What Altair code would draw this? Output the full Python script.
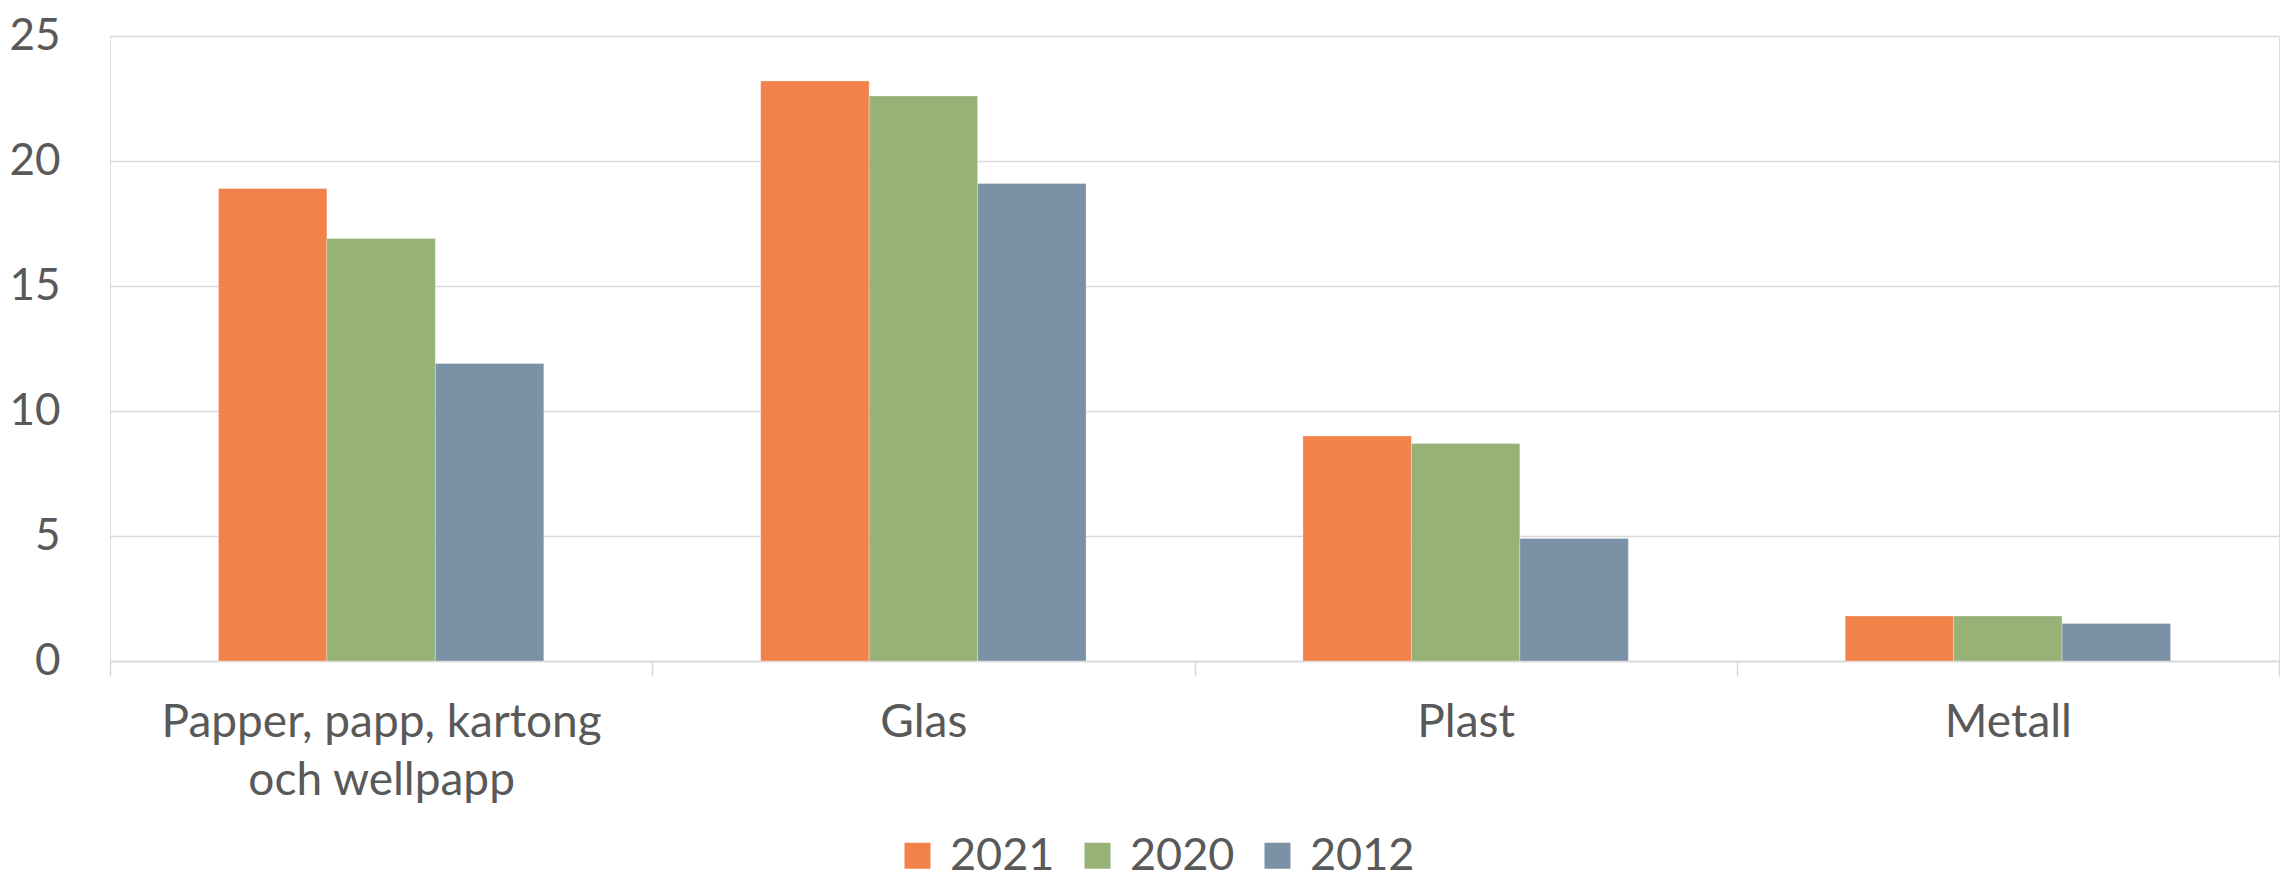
import altair as alt
import pandas as pd

categories = ["Papper, papp, kartong och wellpapp", "Glas", "Plast", "Metall"]
years = ["2021", "2020", "2012"]
values_2021 = [18.9, 23.2, 9.0, 1.8]
values_2020 = [16.9, 22.6, 8.7, 1.8]
values_2012 = [11.9, 19.1, 4.9, 1.5]
colors = ["#F0824A", "#96B277", "#7B91A5"]

rows = []
for yr, vals in zip(years, [values_2021, values_2020, values_2012]):
    for c, v in zip(categories, vals):
        rows.append({"Kategori": c, "År": yr, "Värde": v})
df = pd.DataFrame(rows)

FONT = "Lato"
TXT = "#595959"
GRID = "#D9D9D9"

label_expr = ("datum.label == 'Papper, papp, kartong och wellpapp' ? "
              "['Papper, papp, kartong', 'och wellpapp'] : datum.label")

chart = alt.Chart(df).mark_bar(stroke="white", strokeWidth=0.6, strokeOpacity=0.5).encode(
    x=alt.X("Kategori:N", sort=categories, title=None,
            scale=alt.Scale(paddingInner=0, paddingOuter=0),
            axis=alt.Axis(labelAngle=0, labelExpr=label_expr, labelFont=FONT,
                          labelFontSize=46, labelColor=TXT, labelLineHeight=58,
                          labelPadding=24, tickBand="extent", tickSize=15,
                          tickColor=GRID, tickWidth=1.5, domainColor=GRID,
                          domainWidth=1.5, grid=False, labelLimit=1000)),
    xOffset=alt.XOffset("År:N", sort=years,
                        scale=alt.Scale(paddingInner=0, paddingOuter={"expr": "1.1"})),
    y=alt.Y("Värde:Q", title=None,
            scale=alt.Scale(domain=[0, 25]),
            axis=alt.Axis(values=[0, 5, 10, 15, 20, 25], labelFont=FONT,
                          labelFontSize=44, labelColor=TXT, ticks=False, tickSize=0,
                          labelPadding=50, domain=False, gridColor=GRID,
                          gridWidth=1.5)),
    color=alt.Color("År:N", sort=years, title=None,
                    scale=alt.Scale(domain=years, range=colors),
                    legend=alt.Legend(orient="none", legendX=785, legendY=797,
                                      direction="horizontal", symbolType="square",
                                      symbolSize=676, symbolStrokeWidth=0,
                                      labelFont=FONT, labelFontSize=45,
                                      labelColor=TXT, columnPadding=20,
                                      labelOffset=10, symbolOpacity=1)),
).properties(
    width=2169, height=625,
    padding={"left": 0, "top": 6, "right": 0, "bottom": 0},
).configure_view(stroke=None).configure(background="white")

chart.save("out.html", embed_options={"renderer": "svg", "actions": False})
